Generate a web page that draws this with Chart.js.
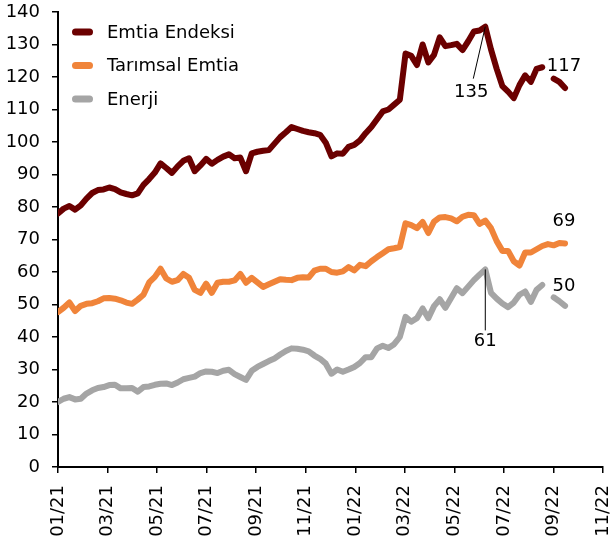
<!DOCTYPE html>
<html>
<head>
<meta charset="utf-8">
<style>
  body { margin: 0; background: white; }
  .wrap { width: 611px; height: 548px; }
</style>
</head>
<body>
<div class="wrap"><canvas id="grafik"></canvas></div>

<script src="https://cdn.jsdelivr.net/npm/chart.js"></script>
<script>
// ay etiketleri (x ekseni, 2 ayda bir)
var ayEtiketleri = ['01/21','03/21','05/21','07/21','09/21','11/21','01/22','03/22','05/22','07/22','09/22','11/22'];

// haftalik degerler, 2021 ocak basindan itibaren
var emtia = [78,79.5,80.3,79.2,80.5,82.6,84.3,85.2,85.4,86,85.5,84.5,84,83.6,84.2,86.8,88.6,90.6,93.4,92,
  90.5,92.5,94.2,95,91,92.8,94.8,93.3,94.5,95.5,96.2,95,95.2,91,96.5,97,97.3,97.5,99.5,101.5,
  103,104.6,104,103.4,103,102.7,102.2,99.8,95.6,96.5,96.4,98.5,99.1,100.5,102.7,104.6,107,109.4,110,111.5,
  113,127.2,126.5,123.7,130,124.5,126.8,132.2,129.5,129.8,130.2,128.3,131,134,134.3,135.5,128.5,122.5,117.2,115.5,
  113.5,117.5,120.5,118.5,122.5,123,null,119.5,118.5,116.6];

var tarim = [47.7,49,50.6,48,49.6,50.2,50.4,51,51.9,52,51.8,51.3,50.6,50.2,51.5,53,56.8,58.5,61,58,
  57,57.5,59.4,58.2,54.5,53.6,56.4,53.6,56.7,57,57,57.4,59.4,56.7,58.2,56.8,55.4,56.2,57,57.8,
  57.6,57.5,58.2,58.4,58.3,60.4,61,61,60,59.8,60.2,61.5,60.5,62.2,61.8,63.3,64.6,65.8,67,67.3,
  67.7,75,74.4,73.5,75.4,72,75.5,76.8,76.9,76.5,75.6,77,77.6,77.5,74.8,75.8,73.5,69.5,66.5,66.5,
  63.3,62,66,66,67,68,68.6,68.2,68.9,68.8];

var enerji = [20,21,21.5,20.8,21,22.6,23.6,24.3,24.6,25.2,25.3,24.2,24.2,24.3,23.2,24.6,24.8,25.3,25.6,25.7,
  25.2,26,27,27.4,27.8,28.9,29.4,29.3,28.9,29.6,29.9,28.6,27.7,26.8,29.6,30.8,31.7,32.6,33.4,34.6,
  35.7,36.5,36.4,36.1,35.6,34.3,33.3,31.8,28.7,30,29.3,30,30.8,32,33.8,33.8,36.5,37.3,36.6,37.8,
  40,46.2,44.7,45.8,48.8,45.8,49.5,51.6,49,52,55,53.5,55.5,57.5,59.2,60.8,53.6,51.8,50.3,49.2,
  50.6,53,54,50.8,54.5,56,null,52.2,51,49.6];

var seriAdlari = ['Emtia Endeksi', 'Tarımsal Emtia', 'Enerji'];
var renkler = ['#6B0000', '#F0843A', '#A5A5A5'];

// hafta -> ay cinsinden x
function noktalar(seri){
  return seri.map(function(v, i){ return { x: i * 7 / 30.4375, y: v }; });
}

var yazi = 'DejaVu Sans';

// sol ustteki aciklama
var aciklama = {
  id: 'aciklama',
  afterDraw: function(chart){
    var ctx = chart.ctx;
    ctx.save();
    chart.data.datasets.forEach(function(ds, k){
      var y = 32 + k * 33.5;
      ctx.strokeStyle = ds.borderColor;
      ctx.lineWidth = 7;
      ctx.lineCap = 'round';
      ctx.beginPath();
      ctx.moveTo(75.5, y);
      ctx.lineTo(89.5, y);
      ctx.stroke();
      ctx.fillStyle = '#000';
      ctx.font = '18px ' + yazi;
      ctx.textBaseline = 'middle';
      ctx.fillText(ds.label, 107, y + 1);
    });
    ctx.restore();
  }
};

// deger etiketleri
var notlar = {
  id: 'notlar',
  afterDatasetsDraw: function(chart){
    var ctx = chart.ctx;
    var nokta = function(d, i){ return chart.getDatasetMeta(d).data[i]; };
    ctx.save();
    ctx.fillStyle = '#000';
    ctx.strokeStyle = '#000';
    ctx.lineWidth = 1;
    ctx.font = '18px ' + yazi;
    ctx.textAlign = 'center';
    ctx.textBaseline = 'middle';

    var p = nokta(0, 75);
    ctx.beginPath();
    ctx.moveTo(p.x, p.y);
    ctx.lineTo(p.x - 12, p.y + 52);
    ctx.stroke();
    ctx.fillText('135', p.x - 14, p.y + 66);

    p = nokta(2, 75);
    ctx.beginPath();
    ctx.moveTo(p.x, p.y);
    ctx.lineTo(p.x, p.y + 61);
    ctx.stroke();
    ctx.fillText('61', p.x, p.y + 72);

    var son = emtia.length - 1;
    p = nokta(0, son);
    ctx.fillText('117', p.x - 1, p.y - 22);
    p = nokta(1, son);
    ctx.fillText('69', p.x - 1, p.y - 22);
    p = nokta(2, son);
    ctx.fillText('50', p.x - 1, p.y - 19);
    ctx.restore();
  }
};

var seriler = [emtia, tarim, enerji];

new Chart(document.getElementById('grafik'), {
  type: 'line',
  data: {
    datasets: seriler.map(function(s, k){
      return {
        label: seriAdlari[k],
        data: noktalar(s),
        borderColor: renkler[k],
        backgroundColor: renkler[k],
        borderWidth: 6,
        borderJoinStyle: 'round',
        borderCapStyle: 'round',
        pointRadius: 0,
        spanGaps: false,
        tension: 0
      };
    })
  },
  options: {
    responsive: true,
    maintainAspectRatio: false,
    animation: false,
    layout: { padding: { left: 0, right: 8, top: 12, bottom: 0 } },
    plugins: {
      legend: { display: false },
      tooltip: { enabled: false }
    },
    scales: {
      x: {
        type: 'linear',
        min: 0,
        max: 22,
        border: { color: '#000', width: 2 },
        grid: { drawOnChartArea: false, color: '#000', tickLength: 6, lineWidth: 1.5 },
        ticks: {
          stepSize: 2,
          autoSkip: false,
          minRotation: 90,
          maxRotation: 90,
          padding: 12,
          color: '#000',
          font: { family: yazi, size: 18, lineHeight: 1 },
          callback: function(v){ return ayEtiketleri[v / 2]; }
        },
        afterFit: function(s){
          s.height = 81;
          s.paddingLeft = 0;
          s.paddingRight = 0;
        }
      },
      y: {
        min: 0,
        max: 140,
        border: { color: '#000', width: 2 },
        grid: { drawOnChartArea: false, color: '#000', tickLength: 6, lineWidth: 1.5 },
        ticks: {
          stepSize: 10,
          padding: 12,
          color: '#000',
          font: { family: yazi, size: 18 }
        },
        afterFit: function(s){
          s.width = 58;
          s.paddingTop = 0;
          s.paddingBottom = 0;
        }
      }
    }
  },
  plugins: [aciklama, notlar]
});
</script>
</body>
</html>
